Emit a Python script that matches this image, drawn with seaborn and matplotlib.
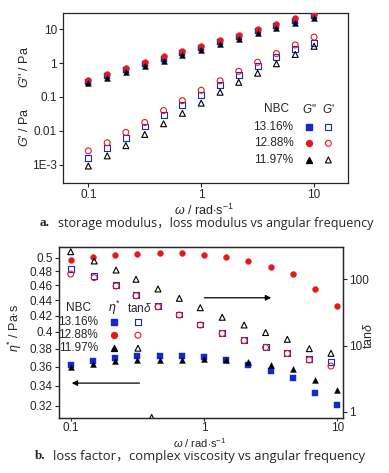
import numpy as np
import matplotlib
matplotlib.use("Agg")
import matplotlib.pyplot as plt
import seaborn as sns

sns.set_style("ticks")
plt.rcParams['font.family'] = ['Liberation Sans', 'DejaVu Sans']
plt.rcParams['mathtext.fontset'] = 'custom'
plt.rcParams['mathtext.it'] = 'Liberation Sans:italic'
plt.rcParams['mathtext.rm'] = 'Liberation Sans'

# frequency sweep, rad/s
omega = [0.1, 0.147, 0.215, 0.316, 0.464, 0.681, 1.0, 1.47, 2.15, 3.16, 4.64, 6.81, 10.0]
omega_tan = [0.1, 0.15, 0.219, 0.309, 0.452, 0.653, 0.938, 1.37, 2.0, 2.9, 4.22, 6.17, 8.97]
labels = ['13.16%', '12.88%', '11.97%']
colors = ['#1428d2', '#e41a1c', '#000000']
markers = ['s', 'o', '^']

# (a) loss modulus G'' and storage modulus G', Pa
g2_1316 = [0.28, 0.42, 0.62, 0.92, 1.35, 2.0, 2.85, 4.2, 6.0, 8.6, 12.3, 17.5, 24]
g2_1288 = [0.32, 0.49, 0.71, 1.07, 1.56, 2.3, 3.27, 4.8, 6.8, 9.8, 14.0, 20.6, 28]
g2_1197 = [0.25, 0.37, 0.54, 0.8, 1.17, 1.71, 2.45, 3.6, 5.2, 7.5, 10.7, 15.0, 21]
g1_1316 = [1.6e-3, 3.1e-3, 6.3e-3, 0.0135, 0.029, 0.058, 0.117, 0.23, 0.45, 0.8, 1.5, 2.6, 4.0]
g1_1288 = [2.6e-3, 4.5e-3, 9.1e-3, 0.0178, 0.04, 0.078, 0.158, 0.30, 0.57, 1.05, 1.9, 3.4, 5.8]
g1_1197 = [0.93e-3, 1.85e-3, 3.7e-3, 7.9e-3, 0.0163, 0.033, 0.066, 0.138, 0.27, 0.5, 0.95, 1.78, 3.1]

# (b) complex viscosity eta*, Pa.s, and loss factor tan delta
eta_1316 = [0.3622, 0.3665, 0.3695, 0.3713, 0.3721, 0.3721, 0.3704, 0.3669, 0.3622, 0.3555, 0.3478, 0.3324, 0.3203]
eta_1288 = [0.497, 0.501, 0.504, 0.5056, 0.5065, 0.5065, 0.5045, 0.501, 0.495, 0.4866, 0.4763, 0.455, 0.4325]
eta_1197 = [0.3597, 0.3632, 0.3657, 0.3676, 0.3676, 0.3676, 0.3682, 0.3669, 0.3651, 0.3622, 0.3575, 0.3453, 0.3357]
tan_1316 = [141.6, 113.4, 82, 57.9, 39.5, 29.4, 20.8, 15.5, 12.1, 9.49, 7.69, 6.23, 5.69]
tan_1288 = [120, 106, 79.2, 56.5, 38.5, 28.9, 20.4, 15.2, 11.9, 9.33, 7.57, 6.04, 4.90]
tan_1197 = [261, 189, 138, 100, 71.4, 51.6, 37.2, 26.7, 20.4, 15.7, 12.4, 8.95, 7.62]
stray_omega = [0.405]
stray_tan = [0.82]

fig = plt.figure(figsize=(3.89, 4.73), dpi=100)
ax1 = fig.add_axes([0.1627, 0.6137, 0.7327, 0.3594])
ax2 = fig.add_axes([0.1517, 0.1156, 0.730, 0.3615])
ax3 = ax2.twinx()

ms = 18
lw_open = 0.8
fs = 8.5


def filled(ax, x, y, c, m):
    sns.scatterplot(x=x, y=y, ax=ax, color=c, marker=m, s=ms, edgecolor=c, linewidth=0.3, zorder=3)


def hollow(ax, x, y, c, m):
    sns.scatterplot(x=x, y=y, ax=ax, color=c, marker=m, s=ms, facecolor='none', edgecolor=c,
                    linewidth=lw_open, zorder=3)


# ---- panel a ----
for g2, g1, c, m in zip([g2_1316, g2_1288, g2_1197], [g1_1316, g1_1288, g1_1197], colors, markers):
    filled(ax1, omega, g2, c, m)
    hollow(ax1, omega, g1, c, m)
ax1.set_xscale('log')
ax1.set_yscale('log')
ax1.set_xlim(0.06, 20.1)
ax1.set_ylim(3.0e-4, 30.2)
ax1.set_xticks([0.1, 1, 10], ['0.1', '1', '10'])
ax1.set_yticks([1e-3, 0.01, 0.1, 1, 10], ['1E-3', '0.01', '0.1', '1', '10'])
ax1.minorticks_off()
ax1.set_xlabel('')
ax1.set_ylabel('')

# legend table a
ax1.text(0.749, 0.432, 'NBC', transform=ax1.transAxes, ha='center', va='center', fontsize=fs)
ax1.text(0.863, 0.432, "$\\mathit{G}$''", transform=ax1.transAxes, ha='center', va='center', fontsize=fs)
ax1.text(0.929, 0.432, "$\\mathit{G}$'", transform=ax1.transAxes, ha='center', va='center', fontsize=fs)
for lab, c, m, yy in zip(labels, colors, markers, [0.329, 0.232, 0.134]):
    ax1.text(0.807, yy, lab, transform=ax1.transAxes, ha='right', va='center', fontsize=fs)
    ax1.scatter([0.862], [yy], transform=ax1.transAxes, s=ms, marker=m, color=c, clip_on=False)
    ax1.scatter([0.930], [yy], transform=ax1.transAxes, s=ms, marker=m, facecolor='none',
                edgecolor=c, linewidth=lw_open, clip_on=False)

# ---- panel b ----
for eta, c, m in zip([eta_1316, eta_1288, eta_1197], colors, markers):
    filled(ax2, omega, eta, c, m)
for tan, c, m in zip([tan_1316, tan_1288, tan_1197], colors, markers):
    hollow(ax3, omega_tan, tan, c, m)
hollow(ax3, stray_omega, stray_tan, 'k', '^')

ax2.set_xscale('log')
ax2.set_yscale('log')
ax3.set_yscale('log')
ax2.set_xlim(0.0817, 11.04)
ax2.set_ylim(0.308, 0.516)
ax3.set_ylim(0.795, 304)
eta_ticks = [0.32, 0.34, 0.36, 0.38, 0.4, 0.42, 0.44, 0.46, 0.48, 0.5]
ax2.set_yticks(eta_ticks, [str(t) for t in eta_ticks])
ax2.set_xticks([0.1, 1, 10], ['0.1', '1', '10'])
ax3.set_yticks([1, 10, 100], ['1', '10', '100'])
ax2.minorticks_off()
ax3.minorticks_off()
for a in (ax2, ax3):
    a.set_xlabel('')
    a.set_ylabel('')

ax2.text(0.070, 0.643, 'NBC', transform=ax2.transAxes, ha='center', va='center', fontsize=fs)
ax2.text(0.195, 0.643, '$\\eta^{*}$', transform=ax2.transAxes, ha='center', va='center', fontsize=fs + 0.5)
ax2.text(0.282, 0.643, 'tan$\\delta$', transform=ax2.transAxes, ha='center', va='center', fontsize=fs)
for lab, c, m, yy in zip(labels, colors, markers, [0.564, 0.486, 0.410]):
    ax2.text(0.138, yy, lab, transform=ax2.transAxes, ha='right', va='center', fontsize=fs)
    ax2.scatter([0.195], [yy], transform=ax2.transAxes, s=ms, marker=m, color=c, clip_on=False, zorder=4)
    ax2.scatter([0.278], [yy], transform=ax2.transAxes, s=ms, marker=m, facecolor='none',
                edgecolor=c, linewidth=lw_open, clip_on=False, zorder=4)

ax2.annotate('', xy=(0.757, 0.705), xytext=(0.502, 0.705), xycoords='axes fraction',
             arrowprops=dict(arrowstyle='-|>', color='k', lw=0.9, mutation_scale=8))
ax2.annotate('', xy=(0.035, 0.206), xytext=(0.293, 0.206), xycoords='axes fraction',
             arrowprops=dict(arrowstyle='-|>', color='k', lw=0.9, mutation_scale=8))

for a in (ax1, ax2, ax3):
    a.tick_params(labelsize=fs, length=3, width=0.8, pad=1.5)
    for s in a.spines.values():
        s.set_linewidth(0.9)
        s.set_visible(True)
ax2.tick_params(axis='x', pad=0.5, length=2.5)

# axis titles
tf = 9
fig.text(25 / 389, 1 - 67 / 473, "$\\mathit{G}$'' / Pa", rotation=90, ha='center', va='center', fontsize=tf)
fig.text(25 / 389, 1 - 127 / 473, "$\\mathit{G}$' / Pa", rotation=90, ha='center', va='center', fontsize=tf)
fig.text(204 / 389, 1 - 210 / 473, '$\\mathit{\\omega}$ / rad$\\cdot$s$^{-1}$', ha='center', va='center', fontsize=tf)
fig.text(15 / 389, 1 - 328 / 473, '$\\eta^{*}$ / Pa$\\cdot$s', rotation=90, ha='center', va='center', fontsize=tf)
fig.text(369 / 389, 1 - 336 / 473, 'tan$\\delta$', rotation=90, ha='center', va='center', fontsize=tf)
fig.text(200 / 389, 1 - 443 / 473, '$\\mathit{\\omega}$ / rad$\\cdot$s$^{-1}$', ha='center', va='center', fontsize=8)

cap = ['Open Sans', 'Noto Sans CJK SC', 'DejaVu Sans']
fig.text(40 / 389, 1 - 223.3 / 473, 'a.', ha='left', va='center', fontsize=9.5, fontweight='bold', family='Liberation Serif')
fig.text(58 / 389, 1 - 223.3 / 473, 'storage modulus，loss modulus vs angular frequency', ha='left', va='center',
         fontsize=9, family=cap)
fig.text(35 / 389, 1 - 456 / 473, 'b.', ha='left', va='center', fontsize=9.5, fontweight='bold', family='Liberation Serif')
fig.text(53 / 389, 1 - 456 / 473, 'loss factor，complex viscosity vs angular frequency', ha='left', va='center',
         fontsize=9.4, family=cap)

fig.savefig('out.png', dpi=100)
